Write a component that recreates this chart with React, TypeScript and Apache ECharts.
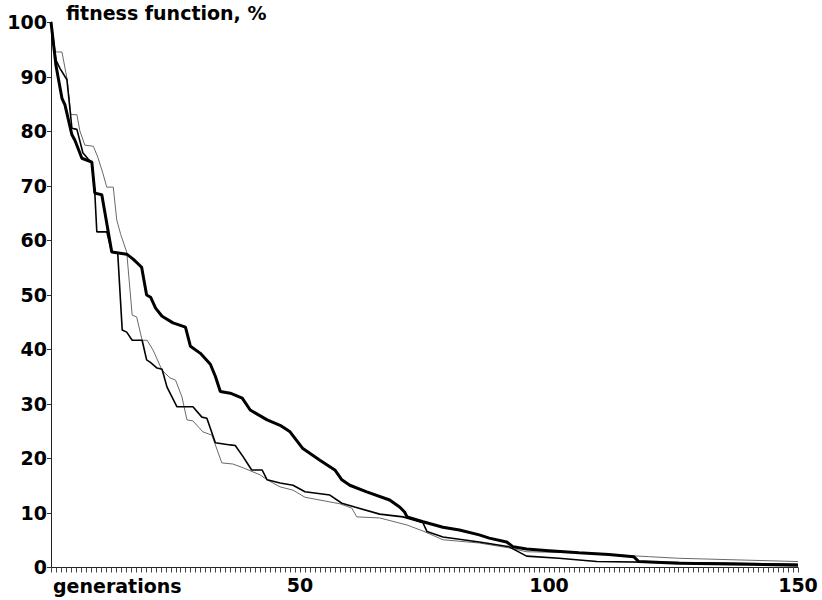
import React, { useEffect, useRef } from "react";
import * as echarts from "echarts";

const xTickLabels = ["", "50", "100", "150"];
const yTickValues = [0, 10, 20, 30, 40, 50, 60, 70, 80, 90, 100];
// one small tick per generation on the x axis (0..150)
const xTickGenerations: number[] = Array.from({ length: 151 }, (_, i) => i);

const thickSeries: [number, number][] = [
  [0, 100], [1, 92], [2.2, 86], [2.8, 84.8], [4.2, 79.3], [4.8, 78.3], [6.2, 75], [8.2, 74.3],
  [8.8, 68.6], [10.2, 68.3], [12.2, 57.8], [15.2, 57.4], [16.5, 56.5], [18.2, 55], [19.2, 49.9],
  [20, 49.5], [21, 47.5], [22.3, 46], [24.5, 44.8], [27, 44], [28, 40.5], [30, 39.2], [32, 37.2],
  [33, 35], [34, 32.2], [36, 31.9], [38.4, 31], [40, 28.8], [41.5, 28], [43.4, 27], [46, 26],
  [48, 24.8], [50.5, 21.8], [54, 19.6], [57, 17.8], [58.4, 16], [60, 15], [63.4, 13.8],
  [68, 12.3], [70, 11], [71, 10.1], [71.5, 9.2], [74.7, 8.3], [78.7, 7.3], [82, 6.8], [86, 5.9],
  [88, 5.3], [91.5, 4.6], [92.8, 3.7], [95.5, 3.3], [100, 3.0], [106, 2.6], [112, 2.3],
  [117, 1.9], [118, 1.0], [126, 0.7], [140, 0.5], [150, 0.3],
];

const mediumSeries: [number, number][] = [
  [0, 100], [1, 93], [1.8, 91.5], [3.2, 89.4], [4.2, 80.5], [5.2, 80.3], [6.4, 76], [7.5, 74.8],
  [8.2, 74.3], [8.8, 68.6], [9.2, 61.5], [11.2, 61.5], [12.2, 57.8], [13.4, 57.6], [14.3, 43.5],
  [15.2, 43.1], [16.3, 41.6], [18.3, 41.6], [19.2, 38], [19.9, 37.6], [21.3, 36.5], [22.3, 36.3],
  [23.3, 33], [25.3, 29.4], [28.5, 29.4], [30.3, 27.5], [31.3, 27.3], [33, 22.8], [36, 22.4],
  [37, 22.3], [38.6, 20.2], [40.3, 17.8], [42.4, 17.8], [43.4, 16], [46, 15.4], [48.6, 15],
  [51, 13.8], [56, 13.2], [58.4, 11.7], [61, 11], [66, 9.7], [70.7, 9.2], [74.7, 8.1],
  [75.5, 6.5], [78.7, 5.5], [86, 4.6], [92, 3.7], [95.5, 2.0], [102, 1.6], [109.6, 1.0],
  [126, 0.8], [150, 0.5],
];

const graySeries: [number, number][] = [
  [0, 100], [0.8, 94.5], [2.2, 94.5], [3.2, 89.7], [4, 83], [5.2, 83], [5.8, 80], [6.8, 77.4],
  [8.5, 77.2], [9.4, 75.2], [10.4, 72.3], [11.2, 69.7], [12.5, 69.7], [13.2, 63.7], [14, 61],
  [15.2, 57.8], [16.3, 46.2], [17.2, 45.9], [18.3, 41.6], [19.3, 41.6], [20.5, 39.8],
  [22.3, 36.1], [23.9, 34.7], [25, 34.3], [26.3, 31.2], [27.3, 27], [28.5, 26.8], [30.5, 24.8],
  [32.3, 24.2], [34.3, 19.1], [36.5, 18.9], [38.6, 18.2], [42, 16.9], [43.4, 16], [46, 14.7],
  [48.6, 14.1], [51, 12.8], [58, 11.6], [60.4, 10.8], [61.4, 9.2], [66, 9.0], [71.5, 7.7],
  [74.7, 6.6], [78.7, 5.0], [86, 4.4], [92, 3.5], [95.5, 2.8], [106, 2.6], [120, 1.9],
  [126, 1.6], [150, 1.0],
];

const yTitle = "fitness function, %";
const xTitle = "generations";

const FONT = "DejaVu Sans";

export default function App() {
  const ref = useRef<HTMLDivElement>(null);
  useEffect(() => {
    if (!ref.current) return;
    const chart = echarts.init(ref.current, null, { renderer: "svg" });
    const labelStyle = { fontFamily: FONT, fontWeight: "bold" as const, fontSize: 19, color: "#000" };
    chart.setOption({
      animation: false,
      backgroundColor: "#fff",
      grid: { left: 51, right: 24, top: 22, bottom: 33, containLabel: false },
      xAxis: {
        type: "value",
        min: 0,
        max: 150,
        interval: 50,
        axisLine: { show: true, onZero: false, lineStyle: { color: "#222", width: 1 } },
        axisTick: { show: false },
        splitLine: { show: false },
        axisLabel: {
          ...labelStyle,
          margin: 8,
          formatter: (v: number) => xTickLabels[Math.round(v / 50)] ?? "",
        },
      },
      yAxis: {
        type: "value",
        min: 0,
        max: 100,
        interval: 10,
        axisLine: { show: true, lineStyle: { color: "#222", width: 1 } },
        axisTick: { show: false },
        splitLine: { show: false },
        axisLabel: {
          ...labelStyle,
          margin: 4,
          formatter: (v: number) => (yTickValues.includes(v) ? String(v) : ""),
        },
      },
      graphic: [
        {
          type: "text",
          left: 66,
          top: 3,
          style: { text: yTitle, font: `bold 19px "${FONT}"`, fill: "#000" },
        },
        {
          type: "text",
          left: 53,
          top: 576,
          style: { text: xTitle, font: `bold 19px "${FONT}"`, fill: "#000" },
        },
      ],
      series: [
        {
          type: "custom",
          clip: false,
          silent: true,
          data: xTickGenerations.map((g) => [g, 0]),
          encode: { x: 0, y: 1 },
          renderItem: (_params: any, api: any) => {
            const p = api.coord([api.value(0), 0]);
            const x = Math.round(p[0]) + 0.5;
            return {
              type: "rect",
              shape: { x: x - 0.5, y: p[1] + 0.5, width: 1, height: 5 },
              style: { fill: "#444" },
            };
          },
          z: 1,
        },
        {
          type: "custom",
          clip: false,
          silent: true,
          data: yTickValues.map((v) => [0, v]),
          encode: { x: 0, y: 1 },
          renderItem: (_params: any, api: any) => {
            const p = api.coord([0, api.value(1)]);
            const y = Math.round(p[1]);
            return {
              type: "rect",
              shape: { x: p[0] - 4, y: y, width: 4, height: 1 },
              style: { fill: "#333" },
            };
          },
          z: 1,
        },
        {
          type: "line",
          data: graySeries,
          showSymbol: false,
          lineStyle: { color: "#6a6a6a", width: 1 },
          z: 2,
        },
        {
          type: "line",
          data: mediumSeries,
          showSymbol: false,
          lineStyle: { color: "#000", width: 1.6 },
          z: 3,
        },
        {
          type: "line",
          data: thickSeries,
          showSymbol: false,
          lineStyle: { color: "#000", width: 3 },
          z: 4,
        },
      ],
    });
    return () => chart.dispose();
  }, []);
  return (
    <div
      ref={ref}
      style={{ position: "fixed", left: 0, top: 0, width: 822, height: 600, background: "#fff" }}
    />
  );
}
